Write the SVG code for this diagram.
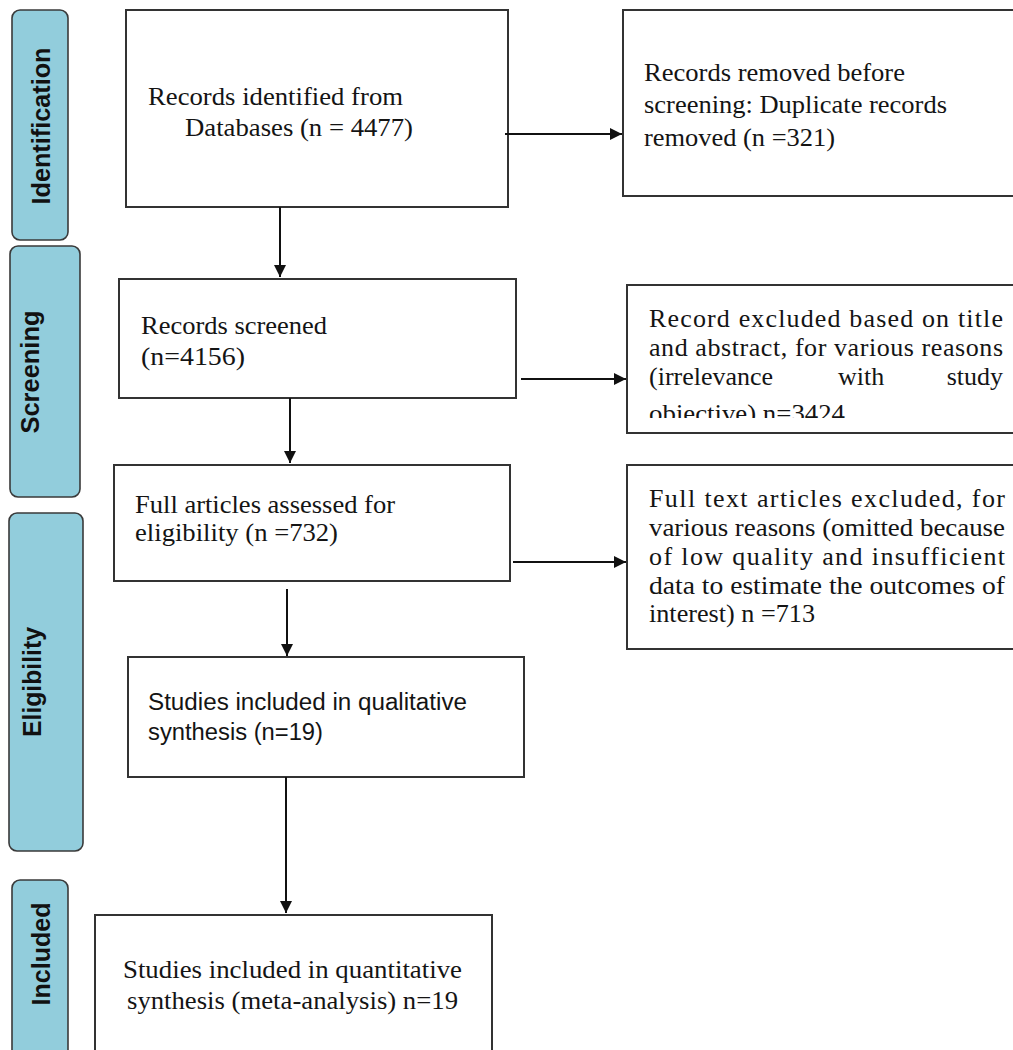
<svg xmlns="http://www.w3.org/2000/svg" width="1013" height="1050" viewBox="0 0 1013 1050">
<style>
.bg{fill:#ffffff}
.phase{fill:#92cddc;stroke:#3a3a3a;stroke-width:1.6}
.ph{font-family:"Liberation Sans",Arial,sans-serif;font-weight:bold;font-size:25px;fill:#111;text-anchor:middle}
.box{fill:#ffffff;stroke:#333;stroke-width:2}
.t{font-family:"Liberation Serif","Times New Roman",serif;font-size:26px;fill:#141414}
.c{font-family:"Liberation Sans",Calibri,sans-serif;font-size:23px;fill:#141414}
.conn line{stroke:#111;stroke-width:2;marker-end:url(#ah)}
</style>
<defs>
<marker id="ah" viewBox="0 0 10 10" refX="10" refY="5" markerWidth="13" markerHeight="12" markerUnits="userSpaceOnUse" orient="auto">
<path d="M0,0 L10,5 L0,10 z" fill="#111"/>
</marker>
<clipPath id="clipR2"><rect x="627" y="285" width="386" height="133"/></clipPath>
</defs>
<rect class="bg" x="0" y="0" width="1013" height="1050"/>

<g id="phase-identification">
<rect class="phase" x="12" y="10" width="56" height="230" rx="8"/>
<text class="ph" transform="translate(50,126) rotate(-90)" textLength="157" lengthAdjust="spacingAndGlyphs">Identification</text>
</g>
<g id="phase-screening">
<rect class="phase" x="10" y="246" width="70" height="251" rx="8"/>
<text class="ph" transform="translate(39,372) rotate(-90)" textLength="123" lengthAdjust="spacingAndGlyphs">Screening</text>
</g>
<g id="phase-eligibility">
<rect class="phase" x="9" y="513" width="74" height="338" rx="8"/>
<text class="ph" transform="translate(41,682) rotate(-90)" textLength="110" lengthAdjust="spacingAndGlyphs">Eligibility</text>
</g>
<g id="phase-included">
<rect class="phase" x="12" y="880" width="56" height="180" rx="8"/>
<text class="ph" transform="translate(50,954) rotate(-90)" textLength="103" lengthAdjust="spacingAndGlyphs">Included</text>
</g>

<g id="node-identified">
<rect class="box" x="126" y="10" width="382" height="197"/>
<text class="t" x="148" y="105" textLength="255" lengthAdjust="spacingAndGlyphs">Records identified from</text>
<text class="t" x="185" y="136" textLength="228" lengthAdjust="spacingAndGlyphs">Databases (n = 4477)</text>
</g>

<g id="node-removed">
<rect class="box" x="623" y="10" width="392" height="186"/>
<text class="t" x="644" y="81" textLength="261" lengthAdjust="spacingAndGlyphs">Records removed before</text>
<text class="t" x="644" y="113" textLength="303" lengthAdjust="spacingAndGlyphs">screening: Duplicate records</text>
<text class="t" x="644" y="146" textLength="191" lengthAdjust="spacingAndGlyphs">removed (n =321)</text>
</g>

<g id="node-screened">
<rect class="box" x="119" y="279" width="397" height="119"/>
<text class="t" x="141" y="334" textLength="186" lengthAdjust="spacingAndGlyphs">Records screened</text>
<text class="t" x="141" y="365" textLength="104" lengthAdjust="spacingAndGlyphs">(n=4156)</text>
</g>

<g id="node-excluded-title">
<rect class="box" x="627" y="285" width="392" height="148"/>
<g clip-path="url(#clipR2)">
<text class="t" x="649" y="327" textLength="354" lengthAdjust="spacing">Record excluded based on title</text>
<text class="t" x="649" y="356" textLength="354" lengthAdjust="spacing">and abstract, for various reasons</text>
<text class="t" x="649" y="385">(irrelevance</text>
<text class="t" x="838" y="385">with</text>
<text class="t" x="1003" y="385" text-anchor="end">study</text>
<text class="t" x="649" y="422" textLength="196" lengthAdjust="spacingAndGlyphs">objective) n=3424</text>
</g>
</g>

<g id="node-full-articles">
<rect class="box" x="114" y="465" width="396" height="116"/>
<text class="t" x="135" y="513" textLength="260" lengthAdjust="spacingAndGlyphs">Full articles assessed for</text>
<text class="t" x="135" y="541" textLength="203" lengthAdjust="spacingAndGlyphs">eligibility  (n =732)</text>
</g>

<g id="node-excluded-full">
<rect class="box" x="627" y="465" width="392" height="184"/>
<text class="t" x="649" y="507" textLength="356" lengthAdjust="spacing">Full text articles excluded, for</text>
<text class="t" x="649" y="536" textLength="356" lengthAdjust="spacingAndGlyphs">various reasons (omitted because</text>
<text class="t" x="649" y="565" textLength="356" lengthAdjust="spacing">of low quality and insufficient</text>
<text class="t" x="649" y="594" textLength="356" lengthAdjust="spacingAndGlyphs">data to estimate the outcomes of</text>
<text class="t" x="649" y="622" textLength="166" lengthAdjust="spacingAndGlyphs">interest) n =713</text>
</g>

<g id="node-qualitative">
<rect class="box" x="128" y="657" width="396" height="120"/>
<text class="c" x="148" y="710" textLength="319" lengthAdjust="spacingAndGlyphs">Studies included in qualitative</text>
<text class="c" x="148" y="740" textLength="175" lengthAdjust="spacingAndGlyphs">synthesis (n=19)</text>
</g>

<g id="node-quantitative">
<rect class="box" x="95" y="915" width="397" height="150"/>
<text class="t" x="123" y="978" textLength="339" lengthAdjust="spacingAndGlyphs">Studies included in quantitative</text>
<text class="t" x="127" y="1009" textLength="331" lengthAdjust="spacingAndGlyphs">synthesis (meta-analysis) n=19</text>
</g>

<g id="connectors" class="conn">
<line x1="505" y1="134" x2="622" y2="134"/>
<line x1="280" y1="207" x2="280" y2="277"/>
<line x1="521" y1="379" x2="626" y2="379"/>
<line x1="290" y1="398" x2="290" y2="463"/>
<line x1="513" y1="562" x2="626" y2="562"/>
<line x1="287" y1="589" x2="287" y2="656"/>
<line x1="286" y1="777" x2="286" y2="913"/>
</g>
</svg>
